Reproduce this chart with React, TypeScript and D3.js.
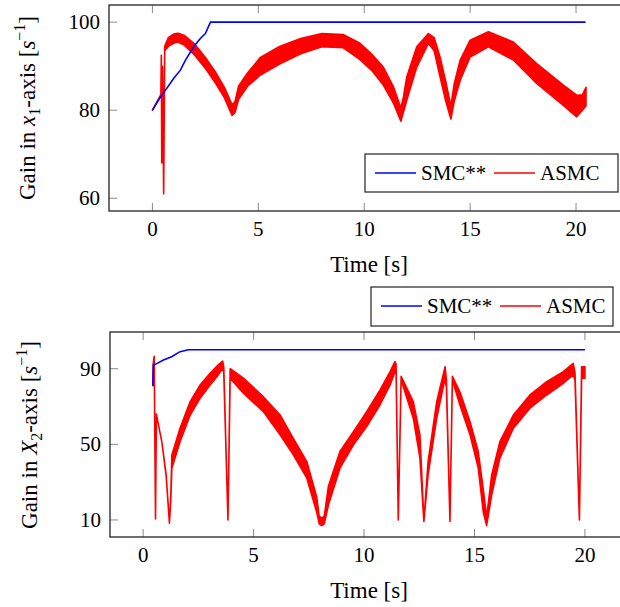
import React, { useEffect, useRef } from "react";
import * as d3 from "d3";

const xTicks = [0, 5, 10, 15, 20];
const yTicksTop = [60, 80, 100];
const yTicksBottom = [10, 50, 90];
const seriesNames = ["SMC**", "ASMC"];
const seriesColors = ["#0000ff", "#ff0000"];

// SMC** gain, x1 axis: [t, gain]
const smcTop = [
  [0, 80], [0.38, 83], [0.61, 84.5], [1.0, 87.2], [1.32, 89.1], [1.56, 91.4],
  [1.95, 94.4], [2.26, 96.3], [2.5, 97.4], [2.74, 100], [20.45, 100],
];

// ASMC gain, x1 axis: [t, low, high] (the signal chatters, so keep its envelope)
const asmcTop = [
  [0, 80, 80], [0.2, 81.8, 81.8], [0.4, 83.3, 83.6], [0.42, 92.5, 92.5],
  [0.44, 68, 68], [0.48, 90, 90], [0.53, 61, 61], [0.58, 93.5, 94.5],
  [0.75, 94.5, 96.5], [1.0, 95.2, 97.3], [1.2, 95.5, 97.5], [1.5, 94.8, 97],
  [2.0, 92.5, 95], [2.5, 89.5, 92], [3.0, 86, 88.5], [3.4, 82.8, 85.2],
  [3.76, 78.8, 81.2], [3.9, 79.5, 82], [4.07, 82.5, 85.5], [4.5, 85.5, 88.5],
  [5.1, 88, 92], [6.0, 90.5, 94.5], [7.0, 92.8, 96.3], [8.0, 94.4, 97.4],
  [9.0, 94.2, 97.2], [9.8, 91.5, 95.2], [10.4, 88.8, 92.5], [10.9, 85.7, 89.8],
  [11.38, 81.6, 85.3], [11.73, 77.5, 80.5], [11.85, 79.5, 83], [12.01, 82.3, 87.6],
  [12.48, 89.8, 94.4], [13.03, 95.2, 97.4], [13.3, 93.5, 96.5], [13.58, 87.6, 92.1],
  [13.85, 82, 86.5], [14.09, 78, 81], [14.25, 82, 86], [14.53, 86.8, 91.4],
  [15.0, 92.1, 95.9], [15.86, 94.4, 97.8], [17.04, 91.4, 95.5], [18.14, 86.1, 90.6],
  [19.4, 81.1, 85.7], [20.03, 78.5, 83.4], [20.3, 80, 83.5], [20.47, 81, 85.2],
];

// SMC** gain, X2 axis
const smcBottom = [
  [0.44, 81], [0.46, 92], [0.55, 92.3], [0.92, 94.6], [1.29, 96.3],
  [1.67, 99], [2.05, 100], [20, 100],
];

// ASMC gain, X2 axis: [t, low, high]
const asmcBottom = [
  [0.44, 81, 81], [0.46, 93, 93], [0.5, 95.5, 96.5], [0.56, 10.5, 10.5],
  [0.6, 66, 66], [0.85, 51, 51], [1.04, 33.5, 34], [1.19, 8.3, 8.8],
  [1.25, 20, 22], [1.3, 37.4, 44.4], [1.67, 51.4, 58.5], [2.13, 65.5, 72.6],
  [2.58, 74.4, 81.4], [3.03, 81.4, 87.6], [3.4, 86.7, 92], [3.6, 90.2, 94],
  [3.65, 88, 91], [3.84, 10, 10], [3.94, 85, 90], [4.54, 77, 85],
  [5.44, 67.3, 75.2], [6.2, 55, 65.5], [6.8, 44.4, 53.2], [7.41, 32.1, 40.9],
  [7.86, 14, 22], [7.97, 8, 12], [8.08, 7, 11], [8.2, 8, 12], [8.39, 18, 28],
  [8.91, 37.4, 46.2], [9.52, 49.7, 56.7], [10.12, 59.4, 67.3], [10.72, 70.8, 78.7],
  [11.18, 81.4, 88.4], [11.4, 88.4, 93.7], [11.45, 88.5, 92.5], [11.55, 10, 10],
  [11.68, 84, 86], [12.23, 63.8, 72.6], [12.53, 42.8, 55], [12.71, 9.2, 9.5],
  [12.9, 33.8, 40.9], [13.29, 63.8, 72.6], [13.67, 85, 91], [13.73, 80, 84],
  [13.89, 9.2, 9.5], [14.0, 84, 86], [14.34, 70.8, 77.8], [14.8, 55, 62],
  [15.17, 37.4, 46.2], [15.4, 14, 26], [15.55, 7, 11.5], [15.78, 23.3, 33.8],
  [16.15, 42.7, 51.4], [16.76, 58.5, 65.5], [17.51, 69.1, 76.1], [18.27, 76.1, 83.1],
  [19.02, 82.3, 88.4], [19.47, 86.7, 92.8], [19.55, 84, 88], [19.75, 10, 10.5],
  [19.85, 85, 91], [20.0, 85, 91],
];

const font = "'Liberation Serif', 'Times New Roman', serif";

function drawPanel(svg, p) {
  const x = d3.scaleLinear().domain(p.xDomain).range(p.xRange);
  const y = d3.scaleLinear().domain(p.yDomain).range(p.yRange);
  const [left, right] = p.xRange;
  const [bottom, top] = p.yRange;
  const tickLen = 8;

  const g = svg.append("g");

  // ticks, inward on every side
  xTicks.forEach((t) => {
    g.append("line").attr("x1", x(t)).attr("x2", x(t))
      .attr("y1", bottom).attr("y2", bottom - tickLen)
      .attr("stroke", "#8a8a8a").attr("stroke-width", 1);
    g.append("line").attr("x1", x(t)).attr("x2", x(t))
      .attr("y1", top).attr("y2", top + tickLen)
      .attr("stroke", "#8a8a8a").attr("stroke-width", 1);
    g.append("text").attr("x", x(t)).attr("y", bottom + 25)
      .attr("text-anchor", "middle").attr("font-family", font)
      .attr("font-size", 21).text(t);
  });
  p.yTicks.forEach((v) => {
    g.append("line").attr("x1", left).attr("x2", left + tickLen)
      .attr("y1", y(v)).attr("y2", y(v))
      .attr("stroke", "#8a8a8a").attr("stroke-width", 1);
    g.append("line").attr("x1", right).attr("x2", right - tickLen)
      .attr("y1", y(v)).attr("y2", y(v))
      .attr("stroke", "#8a8a8a").attr("stroke-width", 1);
    g.append("text").attr("x", left - 9).attr("y", y(v) + 7)
      .attr("text-anchor", "end").attr("font-family", font)
      .attr("font-size", 21).text(v);
  });

  // data
  const area = d3.area()
    .x((d) => x(d[0]))
    .y0((d) => y(d[1]))
    .y1((d) => y(d[2]));
  g.append("path").datum(p.asmc).attr("d", area)
    .attr("fill", seriesColors[1]).attr("stroke", seriesColors[1])
    .attr("stroke-width", 1.6).attr("stroke-linejoin", "round");

  const line = d3.line().x((d) => x(d[0])).y((d) => y(d[1]));
  g.append("path").datum(p.smc).attr("d", line)
    .attr("fill", "none").attr("stroke", seriesColors[0])
    .attr("stroke-width", 1.6);

  // frame
  g.append("rect").attr("x", left).attr("y", top)
    .attr("width", right - left).attr("height", bottom - top)
    .attr("fill", "none").attr("stroke", "#222").attr("stroke-width", 1.3);

  // axis labels
  g.append("text").attr("x", (left + right) / 2).attr("y", bottom + 61)
    .attr("text-anchor", "middle").attr("font-family", font)
    .attr("font-size", 23).text("Time [s]");

  const yl = g.append("text")
    .attr("transform", `translate(${p.yLabelX}, ${p.yLabelY}) rotate(-90)`)
    .attr("text-anchor", "middle").attr("font-family", font).attr("font-size", 23);
  yl.append("tspan").text("Gain in ");
  yl.append("tspan").attr("font-style", "italic").text(p.axisVar);
  yl.append("tspan").attr("font-size", 16).attr("dy", 5).text(p.axisSub);
  yl.append("tspan").attr("dy", -5).text("-axis [");
  yl.append("tspan").attr("font-style", "italic").text("s");
  yl.append("tspan").attr("font-size", 16).attr("dy", -10).text("\u22121");
  yl.append("tspan").attr("dy", 10).text("]");

  // legend
  const lg = p.legend;
  g.append("rect").attr("x", lg.x).attr("y", lg.y)
    .attr("width", lg.w).attr("height", lg.h)
    .attr("fill", "white").attr("stroke", "#222").attr("stroke-width", 1.2);
  const offsets = [10, 129];
  seriesNames.forEach((name, i) => {
    g.append("line").attr("x1", lg.x + offsets[i]).attr("x2", lg.x + offsets[i] + 41)
      .attr("y1", lg.y + 19).attr("y2", lg.y + 19)
      .attr("stroke", seriesColors[i]).attr("stroke-width", 1.6);
    g.append("text").attr("x", lg.x + offsets[i] + 46).attr("y", lg.y + 26)
      .attr("font-family", font).attr("font-size", 21).text(name);
  });
}

export default function App() {
  const ref = useRef(null);

  useEffect(() => {
    document.body.style.margin = "0";
    const svg = d3.select(ref.current);
    svg.selectAll("*").remove();

    drawPanel(svg, {
      xDomain: [-2.05, 22.5], xRange: [109, 629],
      yDomain: [57.1, 103.9], yRange: [211, 5],
      yTicks: yTicksTop, smc: smcTop, asmc: asmcTop,
      axisVar: "x", axisSub: "1", yLabelX: 35, yLabelY: 108,
      legend: { x: 365, y: 154, w: 253, h: 38 },
    });

    drawPanel(svg, {
      xDomain: [-1.5, 21.95], xRange: [110, 628],
      yDomain: [1, 109.4], yRange: [537, 332],
      yTicks: yTicksBottom, smc: smcBottom, asmc: asmcBottom,
      axisVar: "X", axisSub: "2", yLabelX: 37, yLabelY: 435,
      legend: { x: 371, y: 287, w: 242, h: 39 },
    });
  }, []);

  return (
    <div>
      <svg ref={ref} width={620} height={607} style={{ display: "block", overflow: "hidden" }}></svg>
    </div>
  );
}
